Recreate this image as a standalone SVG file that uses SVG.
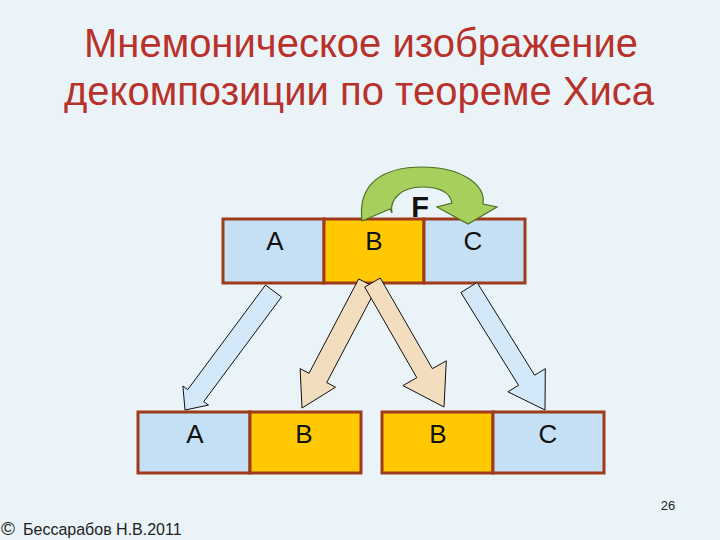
<svg xmlns="http://www.w3.org/2000/svg" width="720" height="540" viewBox="0 0 720 540">
<style>
.bg{fill:#EAF4F8}
.title{font-family:"Liberation Sans",Arial,sans-serif;font-size:40px;fill:#B8312A;text-anchor:middle}
.cellb{fill:#C5E0F4;stroke:#9E3B1A;stroke-width:3}
.cello{fill:#FFC800;stroke:#9E3B1A;stroke-width:3}
.lbl{font-family:"Liberation Sans",Arial,sans-serif;font-size:26px;fill:#111;text-anchor:middle}
.arrb{fill:#D3E8F8;stroke:#111;stroke-width:1}
.arrt{fill:#F2DEBE;stroke:#111;stroke-width:1}
.foot{font-family:"Liberation Sans",Arial,sans-serif;font-size:16px;fill:#222}
</style>
<rect class="bg" x="0" y="0" width="720" height="540"/>
<g id="title">
<text class="title" x="361" y="57">Мнемоническое изображение</text>
<text class="title" x="359" y="105">декомпозиции по теореме Хиса</text>
</g>
<g id="top-bar">
<rect class="cellb" x="223" y="219" width="101" height="64"/>
<rect class="cello" x="324" y="219" width="100" height="64"/>
<rect class="cellb" x="424" y="219" width="101" height="64"/>
<text class="lbl" x="275" y="250">A</text>
<text class="lbl" x="374" y="250">B</text>
<text class="lbl" x="473" y="250">C</text>
</g>
<g id="bottom-left">
<rect class="cellb" x="138" y="412" width="112" height="61"/>
<rect class="cello" x="250" y="412" width="111" height="61"/>
<text class="lbl" x="195" y="443">A</text>
<text class="lbl" x="304" y="443">B</text>
</g>
<g id="bottom-right">
<rect class="cello" x="382" y="412" width="111" height="61"/>
<rect class="cellb" x="493" y="412" width="111" height="61"/>
<text class="lbl" x="438" y="443">B</text>
<text class="lbl" x="548" y="443">C</text>
</g>
<g id="connectors">
<polygon class="arrb" points="265.5,285 187.7,389.6 182.9,386 185,410 208.5,405.1 203.7,401.6 281.5,297"/>
<polygon class="arrt" points="358.7,278.9 309,373.3 300.1,368.6 302,408 335.5,387.2 326.7,382.6 376.4,288.2"/>
<polygon class="arrt" points="364.7,287 416.8,377.7 402.9,385.6 444,407 446.3,360.8 432.4,368.7 380.3,278"/>
<polygon class="arrb" points="460.9,292.5 518.5,385.3 507.9,391.8 545,410 545.3,368.7 534.6,375.2 477.1,282.5"/>
<path fill="#A6CF5E" stroke="#4F6F23" stroke-width="1.2" d="M362,221 C357,182 385,167 422,167 C460,167 486,184 483,204 L497,207 L468,224 L437,207 L452,203 C450,193 440,187 422,187 C402,187 389,199 392,213 L390,209 Z"/>
</g>
<g id="f-label">
<text x="420" y="217" font-family="Liberation Sans,Arial,sans-serif" font-size="29" font-weight="bold" fill="#111" text-anchor="middle">F</text>
</g>
<g id="footer">
<text class="foot" x="1" y="535" style="font-size:19px">©</text>
<text class="foot" x="23" y="535">Бессарабов Н.В.2011</text>
<text class="foot" x="668" y="510" style="font-size:13px" text-anchor="middle">26</text>
</g>
</svg>
